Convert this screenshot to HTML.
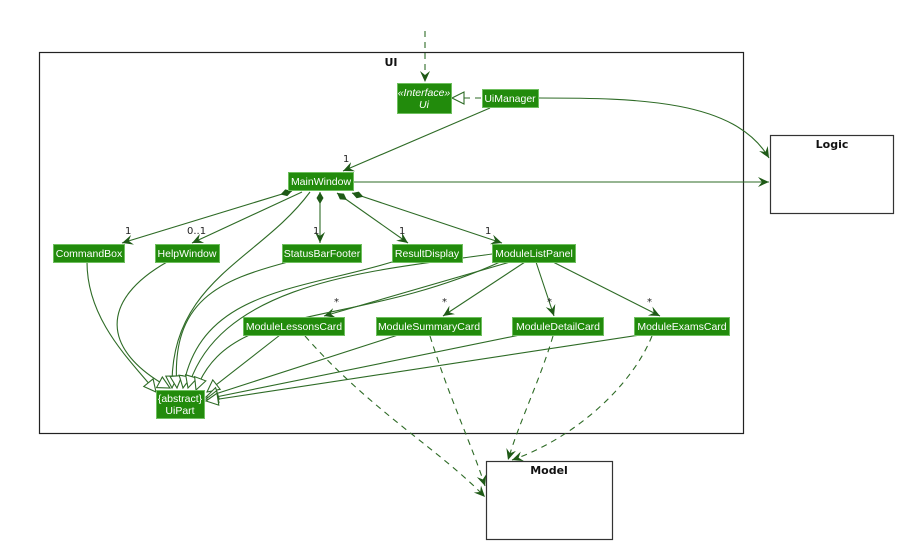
<!DOCTYPE html>
<html><head><meta charset="utf-8"><style>
html,body{margin:0;padding:0;background:#fff;}
svg{display:block;}
text{font-family:"DejaVu Sans","Liberation Sans",sans-serif;}
.c{fill:#fff;font-size:10.5px;font-family:"Liberation Sans",sans-serif;}
.l{fill:#222;font-size:10px;font-family:"DejaVu Sans",sans-serif;}
.e{fill:none;stroke:#2e6b26;stroke-width:1.1;}
.d{fill:none;stroke:#2e6b26;stroke-width:1.1;stroke-dasharray:6,5;}
.b{fill:#228b0c;stroke:#6fbf5f;stroke-width:1;}
</style></head><body>
<svg width="918" height="552" viewBox="0 0 918 552" xmlns="http://www.w3.org/2000/svg">
<defs>
<marker id="a" viewBox="0 0 12 12" refX="11" refY="6" markerWidth="12" markerHeight="12" markerUnits="userSpaceOnUse" orient="auto">
<path d="M0,1 L11,6 L0,11 L4,6 Z" fill="#1f5a17"/></marker>
<marker id="t" viewBox="0 0 14 14" refX="13" refY="7" markerWidth="14" markerHeight="14" markerUnits="userSpaceOnUse" orient="auto">
<path d="M1,1 L13,7 L1,13 Z" fill="#fff" stroke="#2e6b26" stroke-width="1.1"/></marker>
<marker id="m" viewBox="0 0 14 10" refX="0" refY="5" markerWidth="14" markerHeight="10" markerUnits="userSpaceOnUse" orient="auto">
<path d="M0,5 L6,1.5 L12,5 L6,8.5 Z" fill="#1f5a17"/></marker>
</defs>

<rect x="39.5" y="52.5" width="704" height="381" fill="none" stroke="#222" stroke-width="1.2"/>
<text x="391" y="66" font-size="11" font-weight="bold" text-anchor="middle" fill="#111">UI</text>
<rect x="770.5" y="135.5" width="123" height="78" fill="#fff" stroke="#333" stroke-width="1.2"/>
<text x="832" y="148" font-size="11" font-weight="bold" text-anchor="middle" fill="#111">Logic</text>
<rect x="486.5" y="461.5" width="126" height="78" fill="#fff" stroke="#333" stroke-width="1.2"/>
<text x="549" y="474" font-size="11" font-weight="bold" text-anchor="middle" fill="#111">Model</text>

<path class="d" d="M425,31 L425,82" marker-end="url(#a)"/>
<path class="d" d="M481,98 L452,98" marker-end="url(#t)"/>
<path class="e" d="M490,108 L343,171" marker-end="url(#a)"/>
<text class="l" x="343" y="162">1</text>
<path class="e" d="M538,98 C640,98 735,100 769,158" marker-end="url(#a)"/>
<path class="e" d="M353,182 L769,182" marker-end="url(#a)"/>

<path class="e" d="M292,191 L122,243" marker-start="url(#m)" marker-end="url(#a)"/>
<text class="l" x="125" y="234">1</text>
<path class="e" d="M302,192 L192,243" marker-end="url(#a)"/>
<text class="l" x="187" y="234">0..1</text>
<path class="e" d="M320,192 L320,243" marker-start="url(#m)" marker-end="url(#a)"/>
<text class="l" x="313" y="234">1</text>
<path class="e" d="M337,193 L408,243" marker-start="url(#m)" marker-end="url(#a)"/>
<text class="l" x="399" y="234">1</text>
<path class="e" d="M352,193 L502,243" marker-start="url(#m)" marker-end="url(#a)"/>
<text class="l" x="485" y="234">1</text>

<path class="e" d="M510,262 L324,316" marker-end="url(#a)"/>
<text class="l" x="334" y="305">*</text>
<path class="e" d="M525,262 L443,316" marker-end="url(#a)"/>
<text class="l" x="442" y="305">*</text>
<path class="e" d="M536,262 L554,316" marker-end="url(#a)"/>
<text class="l" x="547" y="305">*</text>
<path class="e" d="M553,262 L660,316" marker-end="url(#a)"/>
<text class="l" x="647" y="305">*</text>

<path class="e" d="M87,262 C87,320 130,360 156,392" marker-end="url(#t)"/>
<path class="e" d="M167,262 C100,300 100,350 170,388" marker-end="url(#t)"/>
<path class="e" d="M310,192 C260,260 170,280 172,388" marker-end="url(#t)"/>
<path class="e" d="M288,262 C220,280 170,300 177,388" marker-end="url(#t)"/>
<path class="e" d="M392,262 C300,290 200,290 183,388" marker-end="url(#t)"/>
<path class="e" d="M492,254 C380,270 220,280 188,388" marker-end="url(#t)"/>
<path class="e" d="M500,262 C350,330 230,300 196,390" marker-end="url(#t)"/>
<path class="e" d="M280,335 L207,392" marker-end="url(#t)"/>
<path class="e" d="M398,335 L206,397" marker-end="url(#t)"/>
<path class="e" d="M520,335 L206,399" marker-end="url(#t)"/>
<path class="e" d="M640,335 L206,401" marker-end="url(#t)"/>

<path class="d" d="M305,336 C370,410 440,450 485,497" marker-end="url(#a)"/>
<path class="d" d="M430,336 C450,400 470,440 485,486" marker-end="url(#a)"/>
<path class="d" d="M553,336 C540,380 520,420 508,460" marker-end="url(#a)"/>
<path class="d" d="M652,336 C630,390 570,440 512,460" marker-end="url(#a)"/>

<rect class="b" x="397.5" y="83.5" width="54" height="30"/>
<text class="c" x="424" y="96" text-anchor="middle" font-style="italic" font-size="10">«Interface»</text>
<text class="c" x="424" y="108" text-anchor="middle" font-style="italic">Ui</text>
<rect class="b" x="482.5" y="89.5" width="56" height="18"/>
<text class="c" x="510" y="102" text-anchor="middle">UiManager</text>
<rect class="b" x="288.5" y="172.5" width="65" height="18"/>
<text class="c" x="321" y="185" text-anchor="middle">MainWindow</text>

<rect class="b" x="53.5" y="244.5" width="71" height="18"/>
<text class="c" x="89" y="257" text-anchor="middle">CommandBox</text>
<rect class="b" x="155.5" y="244.5" width="64" height="18"/>
<text class="c" x="187" y="257" text-anchor="middle">HelpWindow</text>
<rect class="b" x="282.5" y="244.5" width="79" height="18"/>
<text class="c" x="322" y="257" text-anchor="middle">StatusBarFooter</text>
<rect class="b" x="392.5" y="244.5" width="70" height="18"/>
<text class="c" x="427" y="257" text-anchor="middle">ResultDisplay</text>
<rect class="b" x="492.5" y="244.5" width="83" height="18"/>
<text class="c" x="534" y="257" text-anchor="middle">ModuleListPanel</text>

<rect class="b" x="243.5" y="317.5" width="101" height="18"/>
<text class="c" x="294" y="330" text-anchor="middle">ModuleLessonsCard</text>
<rect class="b" x="376.5" y="317.5" width="105" height="18"/>
<text class="c" x="429" y="330" text-anchor="middle">ModuleSummaryCard</text>
<rect class="b" x="512.5" y="317.5" width="91" height="18"/>
<text class="c" x="558" y="330" text-anchor="middle">ModuleDetailCard</text>
<rect class="b" x="634.5" y="317.5" width="95" height="18"/>
<text class="c" x="682" y="330" text-anchor="middle">ModuleExamsCard</text>

<rect class="b" x="156.5" y="390.5" width="48" height="28"/>
<text class="c" x="180" y="402" text-anchor="middle">{abstract}</text>
<text class="c" x="180" y="414" text-anchor="middle">UiPart</text>
</svg>
</body></html>
